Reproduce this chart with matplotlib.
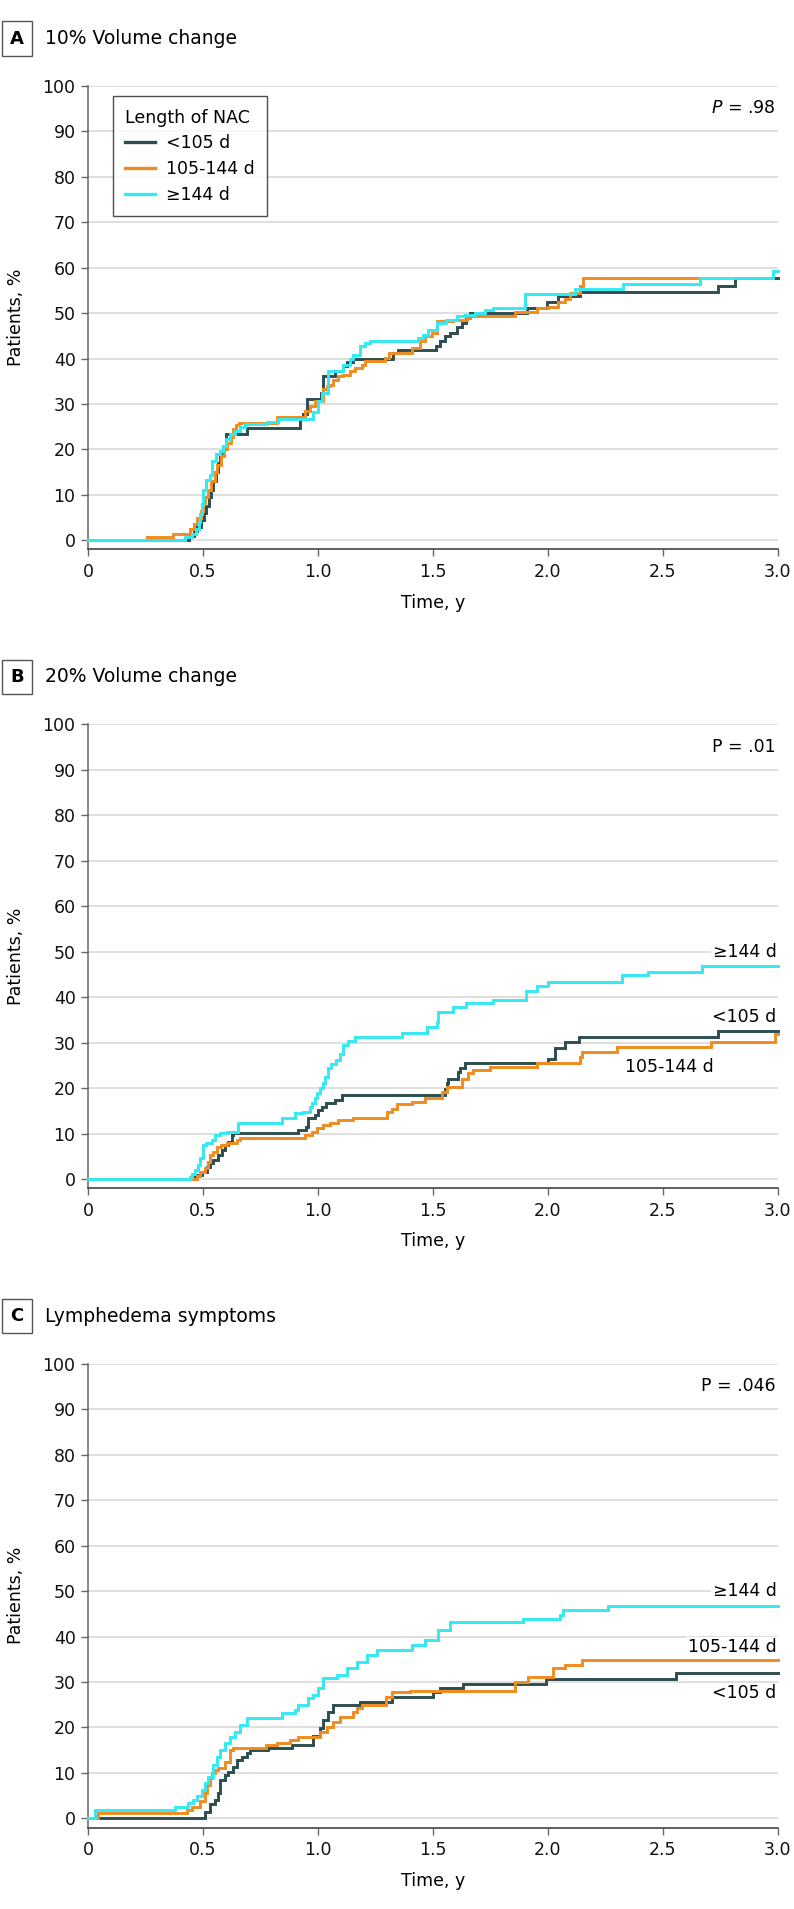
import matplotlib
matplotlib.use("Agg")
import matplotlib.pyplot as plt
from matplotlib.lines import Line2D

plt.rcParams.update({
    "font.family":       ["DejaVu Sans"],
    "axes.spines.top":   False,
    "axes.spines.right": False,
})

DARK   = "#2E4D4F"
ORANGE = "#F08C1F"
CYAN   = "#33E9F2"
GROUPS = ["<105 d", "105-144 d", "\u2265144 d"]

# ---- Panel A: 10% volume change (cumulative %, step breakpoints) ----
a_dark_t = [0, 0.44, 0.46, 0.475, 0.49, 0.505, 0.515, 0.525, 0.535, 0.545, 0.555, 0.565,
            0.575, 0.585, 0.60, 0.69, 0.922, 0.936, 0.954, 1.012, 1.023, 1.074, 1.107, 1.125,
            1.154, 1.325, 1.347, 1.513, 1.531, 1.552, 1.574, 1.603, 1.628, 1.642, 1.661, 1.908,
            1.995, 2.046, 2.14, 2.741, 2.814]
a_dark_v = [0, 1, 2, 3, 4.5, 6, 7.5, 9.5, 11, 13, 15, 17,
            19, 20.5, 23.5, 24.8, 26.6, 27.7, 31, 32.4, 36.1, 37.2, 38.3, 39.2,
            39.9, 41.2, 41.9, 42.7, 43.8, 44.9, 45.6, 46.9, 47.8, 48.9, 50.1, 51.2,
            52.4, 53.7, 54.6, 56, 57.6]
a_orange_t = [0, 0.255, 0.371, 0.443, 0.46, 0.475, 0.49, 0.50, 0.51, 0.52, 0.535, 0.55,
              0.562, 0.577, 0.59, 0.605, 0.62, 0.632, 0.645, 0.655, 0.82, 0.943, 0.965,
              0.987, 1.023, 1.038, 1.052, 1.067, 1.089, 1.111, 1.139, 1.161, 1.19, 1.205,
              1.291, 1.31, 1.407, 1.444, 1.465, 1.494, 1.516, 1.589, 1.647, 1.661, 1.857,
              1.951, 2.002, 2.046, 2.074, 2.096, 2.14, 2.154]
a_orange_v = [0, 0.8, 1.5, 2.4, 3.5, 5, 6.5, 8, 9.5, 11, 13, 15,
              16.5, 18.5, 20, 21.5, 22.8, 24.6, 25.4, 25.8, 27.2, 28.4, 29.5,
              30.6, 33.2, 33.9, 34.2, 35.3, 36.1, 36.4, 37.2, 37.9, 38.6, 39.4,
              40.1, 41.2, 42.3, 43.8, 44.9, 45.6, 48.2, 48.5, 48.9, 49.3, 50.2,
              51.2, 51.4, 52.4, 53.1, 54.5, 56.0, 57.7]
a_cyan_t = [0, 0.42, 0.45, 0.47, 0.483, 0.487, 0.494, 0.501, 0.515, 0.529, 0.541, 0.556,
            0.573, 0.588, 0.602, 0.617, 0.639, 0.66, 0.682, 0.777, 0.828, 0.979, 1.001,
            1.016, 1.045, 1.111, 1.139, 1.154, 1.183, 1.205, 1.226, 1.436, 1.458, 1.48,
            1.516, 1.559, 1.603, 1.639, 1.683, 1.726, 1.76, 1.9, 2.118, 2.328, 2.661, 2.98]
a_cyan_v = [0, 0.8, 1.5, 2.5, 4, 5.9, 8, 11, 13.3, 14.4, 17.4, 18.9,
            19.6, 20.7, 22.2, 23.3, 24.1, 24.9, 25.6, 26, 26.8, 28.3, 30.6,
            32.4, 37.2, 38.6, 40, 40.8, 42.7, 43.4, 43.8, 44.5, 45.2, 46.3,
            47.8, 48.5, 49.3, 49.6, 50, 50.7, 51.2, 54.2, 55.3, 56.4, 57.8, 59.3]
a_end = [3.0, 2.661, 3.0]

# ---- Panel B: 20% volume change ----
b_dark_t = [0, 0.465, 0.494, 0.516, 0.53, 0.545, 0.566, 0.581, 0.595, 0.61, 0.624, 0.632,
            0.914, 0.95, 0.958, 0.987, 1.001, 1.016, 1.037, 1.074, 1.103, 1.552, 1.56, 1.567,
            1.611, 1.618, 1.64, 2.002, 2.031, 2.074, 2.137, 2.741]
b_dark_v = [0, 0.9, 1.6, 2.6, 3.5, 4.2, 5.3, 6.4, 7.5, 8.2, 9.7, 10.1,
            10.8, 11.5, 13.4, 14.1, 15.2, 15.9, 16.7, 17.4, 18.4, 19.9, 21.2, 22.1,
            23.6, 24.5, 25.5, 26.5, 28.8, 30.2, 31.3, 32.6]
b_orange_t = [0, 0.472, 0.487, 0.508, 0.523, 0.53, 0.545, 0.559, 0.58, 0.603, 0.646, 0.66,
              0.943, 0.972, 0.994, 1.023, 1.052, 1.088, 1.154, 1.299, 1.32, 1.342, 1.407,
              1.466, 1.538, 1.56, 1.625, 1.654, 1.676, 1.748, 1.951, 2.139, 2.147, 2.299,
              2.712, 2.988]
b_orange_v = [0, 0.6, 1.6, 2.5, 3.8, 5.3, 6.0, 7.0, 7.5, 7.9, 8.6, 9.0,
              9.7, 10.4, 11.2, 11.9, 12.3, 13.0, 13.4, 14.8, 15.5, 16.5, 17.0,
              17.8, 19.2, 20.3, 22.1, 23.3, 24.0, 24.7, 25.6, 26.9, 28.0, 29.1,
              30.2, 32.0]
b_cyan_t = [0, 0.443, 0.45, 0.465, 0.479, 0.487, 0.501, 0.513, 0.537, 0.552, 0.574, 0.603,
            0.653, 0.842, 0.9, 0.936, 0.965, 0.972, 0.987, 0.994, 1.009, 1.02, 1.03, 1.045,
            1.055, 1.08, 1.095, 1.11, 1.13, 1.16, 1.364, 1.473, 1.516, 1.523, 1.588, 1.646,
            1.763, 1.905, 1.951, 2.002, 2.321, 2.437, 2.669]
b_cyan_v = [0, 0.5, 1.2, 2.0, 3.1, 4.6, 7.5, 8.0, 8.6, 9.7, 10.1, 10.4,
            12.4, 13.4, 14.5, 14.8, 15.9, 16.7, 17.8, 18.9, 20.0, 21.1, 22.5, 24.5,
            25.3, 26.1, 27.6, 29.6, 30.4, 31.2, 32.2, 33.4, 34.6, 36.8, 37.9, 38.8,
            39.4, 41.4, 42.5, 43.4, 44.9, 45.6, 46.8]
b_end = [3.0, 3.0, 3.0]

# ---- Panel C: lymphedema symptoms ----
c_dark_t = [0, 0.508, 0.53, 0.552, 0.566, 0.574, 0.595, 0.61, 0.632, 0.646, 0.668, 0.69,
            0.704, 0.784, 0.885, 0.979, 1.009, 1.023, 1.045, 1.067, 1.182, 1.32, 1.502,
            1.531, 1.632, 1.994, 2.559]
c_dark_v = [0, 1.5, 3.2, 4.1, 5.5, 8.5, 9.6, 10.3, 11.4, 12.8, 13.6, 14.3,
            15.0, 15.4, 16.1, 18.1, 19.8, 21.6, 23.5, 24.9, 25.7, 26.8, 27.9,
            28.6, 29.6, 30.6, 31.9]
c_orange_t = [0, 0.044, 0.429, 0.45, 0.487, 0.508, 0.516, 0.53, 0.537, 0.552, 0.566, 0.595,
              0.617, 0.632, 0.776, 0.82, 0.878, 0.914, 0.972, 1.009, 1.038, 1.067, 1.096,
              1.154, 1.168, 1.19, 1.298, 1.32, 1.4, 1.857, 1.915, 2.024, 2.074, 2.147]
c_orange_v = [0, 1.1, 1.8, 2.5, 3.8, 5.5, 7.3, 8.8, 9.9, 10.6, 11.0, 12.5,
              15.0, 15.4, 16.1, 16.5, 17.2, 17.8, 18.0, 19.1, 20.2, 21.1, 22.4,
              23.5, 24.2, 25.0, 26.8, 27.7, 28.1, 29.9, 31.0, 33.0, 33.7, 34.8]
c_cyan_t = [0, 0.03, 0.378, 0.436, 0.458, 0.472, 0.494, 0.508, 0.523, 0.545, 0.559, 0.574,
            0.595, 0.617, 0.639, 0.66, 0.69, 0.842, 0.9, 0.914, 0.958, 0.979, 1.001, 1.023,
            1.081, 1.125, 1.168, 1.212, 1.255, 1.408, 1.465, 1.524, 1.575, 1.893, 2.053,
            2.067, 2.263]
c_cyan_v = [0, 1.8, 2.4, 3.3, 4.0, 5.0, 6.2, 7.7, 9.1, 11.7, 13.6, 15.0,
            16.5, 18.0, 19.1, 20.5, 22.0, 23.1, 23.8, 24.9, 26.4, 27.1, 28.6, 30.8,
            31.5, 33.0, 34.4, 35.9, 37.1, 38.2, 39.3, 41.4, 43.2, 43.8, 44.7,
            45.8, 46.8]
c_end = [3.0, 3.0, 3.0]

panels = [
    ("A", "10% Volume change",  [(a_dark_t, a_dark_v), (a_orange_t, a_orange_v), (a_cyan_t, a_cyan_v)], a_end,
     "$\\it{P}$ = .98", None),
    ("B", "20% Volume change",  [(b_dark_t, b_dark_v), (b_orange_t, b_orange_v), (b_cyan_t, b_cyan_v)], b_end,
     "P = .01", [(35.6, 2.995), (24.7, 2.72), (50.0, 2.995)]),
    ("C", "Lymphedema symptoms", [(c_dark_t, c_dark_v), (c_orange_t, c_orange_v), (c_cyan_t, c_cyan_v)], c_end,
     "P = .046", [(27.6, 2.995), (37.6, 2.995), (50.0, 2.995)]),
]

W, H = 794, 1909
fig = plt.figure(figsize=(W / 100, H / 100), dpi=100)

ax_left   = 88.1 / W
ax_width  = 689.6 / W
ax_height = 463.8 / H
bottoms_px = [549.5, 1188.2, 1827.5]
title_px   = [38.5, 677.0, 1316.0]
colors = [DARK, ORANGE, CYAN]

for (letter, title, series, ends, ptext, labels), bpx, tpx in zip(panels, bottoms_px, title_px):
    ax = fig.add_axes([ax_left, 1 - bpx / H, ax_width, ax_height])

    for (t, v), end, col in zip(series, ends, colors):
        ax.step(list(t) + [end], list(v) + [v[-1]], where="post",
                color=col, lw=2.1, solid_joinstyle="miter", zorder=3, clip_on=False)

    ax.set_xlim(0, 3.0)
    ax.set_ylim(-2, 100)
    ax.set_xticks([0, 0.5, 1.0, 1.5, 2.0, 2.5, 3.0])
    ax.set_xticklabels(["0", "0.5", "1.0", "1.5", "2.0", "2.5", "3.0"])
    ax.set_yticks(range(0, 101, 10))
    for yv in range(0, 101, 10):
        ax.axhline(yv, color="#DCDCDC", lw=1.3, zorder=1)
    ax.spines["left"].set_color("#666666")
    ax.spines["bottom"].set_color("#444444")
    ax.spines["left"].set_linewidth(1.1)
    ax.spines["bottom"].set_linewidth(1.2)
    ax.tick_params(axis="both", labelsize=12.5, color="#666666", length=5, width=1.0,
                   labelcolor="#111111")
    ax.tick_params(axis="y", pad=4)
    ax.tick_params(axis="x", pad=5)

    ax.set_xlabel("Time, y", fontsize=12.5)
    ax.xaxis.set_label_coords(0.5, -0.095)
    ax.set_ylabel("Patients, %", fontsize=12.5)
    ax.yaxis.set_label_coords(-0.092, 0.5)

    ax.text(0.997, 95, ptext, transform=ax.get_yaxis_transform(),
            ha="right", va="center", fontsize=12.5)

    if labels is None:
        handles = [Line2D([], [], color=c, lw=2.4) for c in colors]
        leg = ax.legend(handles, GROUPS, title="Length of NAC", loc="upper left",
                        bbox_to_anchor=(0.036, 0.977), borderaxespad=0,
                        fontsize=12.5, title_fontsize=12.5,
                        frameon=True, fancybox=False, edgecolor="#222222",
                        handlelength=1.75, handletextpad=0.6, labelspacing=0.45,
                        borderpad=0.7, alignment="left")
        leg.get_frame().set_linewidth(1.0)
    else:
        for (yv, xv), name in zip(labels, GROUPS):
            ax.text(xv, yv, name, ha="right", va="center", fontsize=12.5, zorder=4,
                    bbox=dict(facecolor="white", edgecolor="none", pad=1.0))

    # panel letter box and panel title
    fig.text(17 / W, 1 - tpx / H, letter, ha="center", va="center", fontsize=13,
             fontweight="bold",
             bbox=dict(boxstyle="square,pad=0.45", facecolor="white", edgecolor="#555555", lw=1.0))
    fig.text(45 / W, 1 - tpx / H, title, ha="left", va="center", fontsize=13.5)

fig.savefig("out.png", dpi=100)
